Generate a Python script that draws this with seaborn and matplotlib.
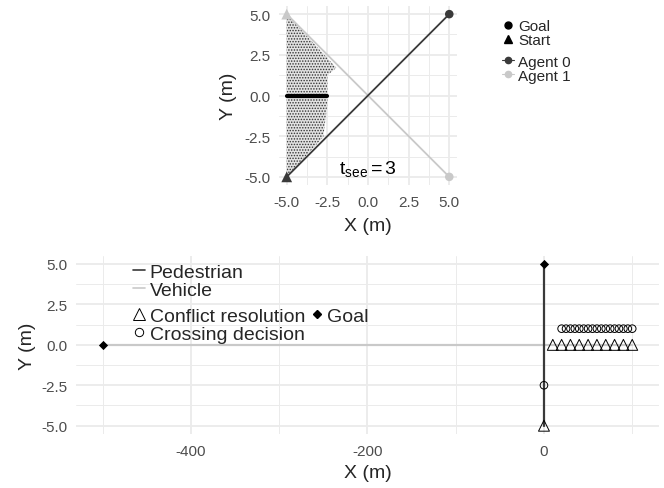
import matplotlib
matplotlib.use("Agg")
import matplotlib.pyplot as plt
from matplotlib.lines import Line2D
import seaborn as sns
import pandas as pd

# ---------------- data ----------------
# top panel
agent0_x = [-5.0, 5.0]
agent0_y = [-5.0, 5.0]
agent1_x = [-5.0, 5.0]
agent1_y = [5.0, -5.0]
start_x = [-5.0, -5.0]          # agent 0, agent 1
start_y = [-5.0, 5.0]
goal_x = [5.0, 5.0]
goal_y = [5.0, -5.0]
see_x = [-5.0, -2.55]
see_y = [0.0, 0.0]
region_x = [-5.0, -1.95, -2.5, -2.5, -2.75, -5.0]
region_y = [5.0, 1.7, 1.25, -0.5, -2.55, -5.0]
t_see = 3
top_ticks = [-5.0, -2.5, 0.0, 2.5, 5.0]
top_ticklabels = ["-5.0", "-2.5", "0.0", "2.5", "5.0"]

# bottom panel
ped_x = [0.0, 0.0]
ped_y = [-5.0, 5.0]
veh_x = [-500.0, 100.0]
veh_y = [0.0, 0.0]
bgoal_x = [0.0, -500.0]
bgoal_y = [5.0, 0.0]
conflict_x = [0, 10, 20, 30, 40, 50, 60, 70, 80, 90, 100]
conflict_y = [-5, 0, 0, 0, 0, 0, 0, 0, 0, 0, 0]
crossing_x = [0, 20, 25, 30, 35, 40, 45, 50, 55, 60, 65, 70, 75, 80, 85, 90, 95, 100]
crossing_y = [-2.5, 1, 1, 1, 1, 1, 1, 1, 1, 1, 1, 1, 1, 1, 1, 1, 1, 1]
bx_ticks = [-400, -200, 0]
bx_ticklabels = ["-400", "-200", "0"]
bx_minor = [-500, -300, -100, 100]
by_ticks = [-5.0, -2.5, 0.0, 2.5, 5.0]
by_ticklabels = ["-5.0", "-2.5", "0.0", "2.5", "5.0"]
y_minor = [-3.75, -1.25, 1.25, 3.75]

# ---------------- style ----------------
sns.set_theme(style="white")
plt.rcParams["font.family"] = ["Liberation Sans", "DejaVu Sans"]
plt.rcParams["mathtext.fontset"] = "custom"
plt.rcParams["mathtext.rm"] = "Liberation Sans"
plt.rcParams["mathtext.it"] = "Liberation Sans"
plt.rcParams["mathtext.default"] = "regular"
plt.rcParams["axes.unicode_minus"] = False
plt.rcParams["hatch.linewidth"] = 0.7

DARK = "#3a3a3a"
LIGHT = "#c9c9c9"
GRID = "#ebebeb"
TICK = "#4d4d4d"

fig = plt.figure(figsize=(6.64, 4.89), dpi=100)
W, H = 664, 489
ax1 = fig.add_axes([278.6 / W, 1 - 186 / H, 178.8 / W, 179 / H])
ax2 = fig.add_axes([76.2 / W, 1 - 434.8 / H, 582.5 / W, 177.9 / H])


def style_axes(ax):
    for s in ax.spines.values():
        s.set_visible(False)
    ax.set_axisbelow(True)
    ax.grid(True, which="major", color=GRID, linewidth=1.3)
    ax.grid(True, which="minor", color=GRID, linewidth=0.7)
    ax.tick_params(which="both", length=0, labelsize=11, labelcolor=TICK)
    ax.tick_params(axis="x", pad=7)
    ax.tick_params(axis="y", pad=6)


# ---------------- top panel ----------------
ax1.fill(region_x, region_y, facecolor="#e2e2e2", edgecolor="#333333",
         hatch="......", linewidth=0, zorder=1)
sns.lineplot(x=agent1_x, y=agent1_y, color=LIGHT, linewidth=1.3, sort=False,
             estimator=None, ax=ax1, zorder=2)
sns.lineplot(x=agent0_x, y=agent0_y, color=DARK, linewidth=1.3, sort=False,
             estimator=None, ax=ax1, zorder=3)
sns.lineplot(x=see_x, y=see_y, color="black", linewidth=3.0, sort=False,
             estimator=None, ax=ax1, zorder=4)
sns.scatterplot(x=start_x, y=start_y, hue=["Agent 0", "Agent 1"],
                palette={"Agent 0": DARK, "Agent 1": LIGHT}, marker="^",
                s=60, linewidth=0, ax=ax1, legend=False, zorder=5)
sns.scatterplot(x=goal_x, y=goal_y, hue=["Agent 0", "Agent 1"],
                palette={"Agent 0": DARK, "Agent 1": LIGHT}, marker="o",
                s=38, linewidth=0, ax=ax1, legend=False, zorder=5)
ax1.text(0.0, -4.45, r"$t_{see} = $" + f"{t_see}", ha="center", va="center",
         fontsize=14, color="black", zorder=6)

ax1.set_xlim(-5.5, 5.5)
ax1.set_ylim(-5.5, 5.5)
ax1.set_xticks(top_ticks)
ax1.set_xticklabels(top_ticklabels)
ax1.set_yticks(top_ticks)
ax1.set_yticklabels(top_ticklabels)
ax1.set_xticks(y_minor, minor=True)
ax1.set_yticks(y_minor, minor=True)
style_axes(ax1)
ax1.set_xlabel("X (m)", fontsize=14, labelpad=6)
ax1.set_ylabel("Y (m)", fontsize=14, labelpad=5)

h_goal = Line2D([], [], color="black", marker="o", markersize=5, linestyle="none")
h_start = Line2D([], [], color="black", marker="^", markersize=5.5, linestyle="none")
h_a0 = Line2D([], [], color=DARK, marker="o", markersize=4.5, linewidth=0.8)
h_a1 = Line2D([], [], color=LIGHT, marker="o", markersize=4.5, linewidth=0.8)
leg1 = fig.legend([h_goal, h_start], ["Goal", "Start"], loc="center left",
                  bbox_to_anchor=(502 / W, 1 - 34 / H), frameon=False,
                  fontsize=11, handlelength=0.8, handletextpad=0.25,
                  labelspacing=0.0, borderpad=0, borderaxespad=0)
leg2 = fig.legend([h_a0, h_a1], ["Agent 0", "Agent 1"], loc="center left",
                  bbox_to_anchor=(502 / W, 1 - 69.5 / H), frameon=False,
                  fontsize=11, handlelength=0.8, handletextpad=0.25,
                  labelspacing=0.0, borderpad=0, borderaxespad=0)

# ---------------- bottom panel ----------------
sns.lineplot(x=veh_x, y=veh_y, color=LIGHT, linewidth=1.6, sort=False,
             estimator=None, ax=ax2, zorder=2)
sns.lineplot(x=ped_x, y=ped_y, color=DARK, linewidth=1.6, sort=False,
             estimator=None, ax=ax2, zorder=3)
sns.scatterplot(x=conflict_x, y=conflict_y, marker="^", s=62,
                facecolor="none", edgecolor="black", linewidth=0.7,
                ax=ax2, legend=False, zorder=4)
sns.scatterplot(x=crossing_x, y=crossing_y, marker="o", s=30,
                facecolor="none", edgecolor="black", linewidth=0.7,
                ax=ax2, legend=False, zorder=4)
sns.scatterplot(x=bgoal_x, y=bgoal_y, marker="D", s=22, color="black",
                linewidth=0, ax=ax2, legend=False, zorder=5)

ax2.set_xlim(-530, 130)
ax2.set_ylim(-5.5, 5.5)
ax2.set_xticks(bx_ticks)
ax2.set_xticklabels(bx_ticklabels)
ax2.set_xticks(bx_minor, minor=True)
ax2.set_yticks(by_ticks)
ax2.set_yticklabels(by_ticklabels)
ax2.set_yticks(y_minor, minor=True)
style_axes(ax2)
ax2.set_xlabel("X (m)", fontsize=14, labelpad=5)
ax2.set_ylabel("Y (m)", fontsize=14, labelpad=4)

h_ped = Line2D([], [], color=DARK, linewidth=1.2)
h_veh = Line2D([], [], color=LIGHT, linewidth=1.2)
leg3 = fig.legend([h_ped, h_veh], ["Pedestrian", "Vehicle"], loc="center left",
                  bbox_to_anchor=(133 / W, 1 - 282 / H), frameon=False,
                  fontsize=14, handlelength=0.6, handletextpad=0.25,
                  labelspacing=0.0, borderpad=0, borderaxespad=0)
h_conf = Line2D([], [], color="black", marker="^", markersize=8,
                markerfacecolor="none", markeredgewidth=0.7, linestyle="none")
h_cross = Line2D([], [], color="black", marker="o", markersize=6,
                 markerfacecolor="none", markeredgewidth=0.7, linestyle="none")
h_bgoal = Line2D([], [], color="black", marker="D", markersize=4.5,
                 linestyle="none")
leg4 = fig.legend([h_conf, h_cross, h_bgoal],
                  ["Conflict resolution", "Crossing decision", "Goal"],
                  ncol=2, loc="center left",
                  bbox_to_anchor=(133 / W, 1 - 326 / H), frameon=False,
                  fontsize=14, handlelength=0.6, handletextpad=0.25,
                  labelspacing=0.0, columnspacing=0.3,
                  borderpad=0, borderaxespad=0)

fig.savefig("out.png", dpi=100)
